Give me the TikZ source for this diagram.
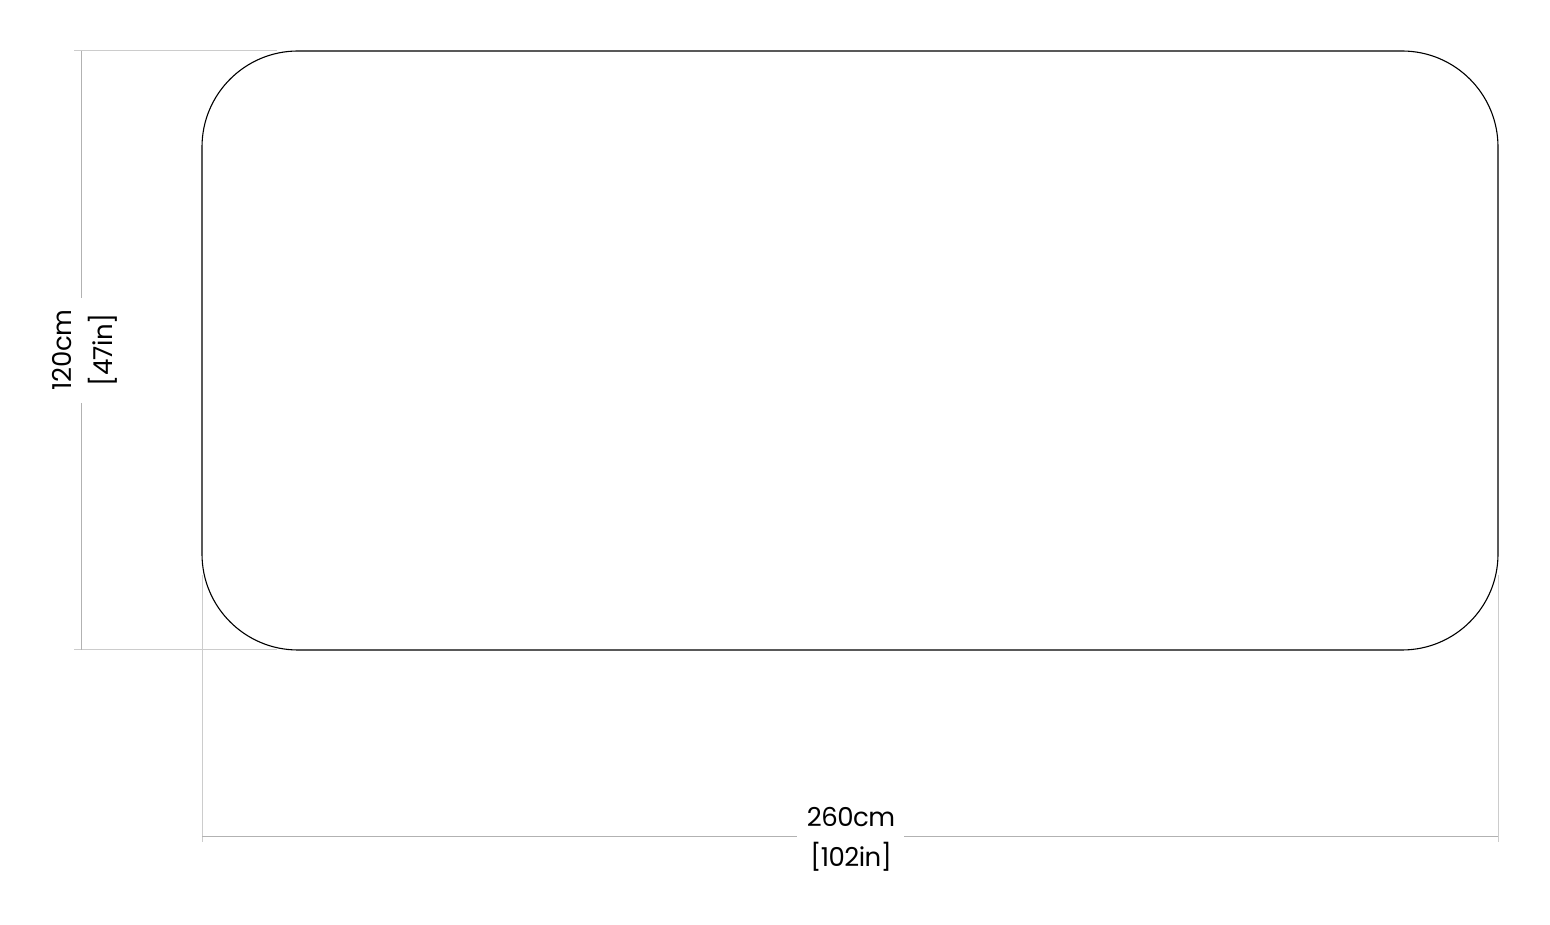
\documentclass[tikz,border=0pt]{standalone}
\usepackage{fontspec}
\setmainfont{Poppins}
\usetikzlibrary{positioning}
\tikzset{
  outline/.style={draw=black,line width=1.1pt},
  dimline/.style={draw=black!30,line width=1pt},
  extline/.style={draw=black!20,line width=1pt},
  dimtext/.style={font=\fontsize{26}{30}\selectfont\addfontfeatures{LetterSpace=-2}\selectfont,inner sep=0pt,text=black}
}
\begin{document}
\begin{tikzpicture}[x=1pt,y=1pt]
        \useasboundingbox (0,0) rectangle (1550,924);
        % table top
        \coordinate (sw) at (202,274);
        \coordinate (ne) at (1498,873);
        \draw[outline,rounded corners=96pt] (sw) rectangle (ne);
        % depth
        \node[dimtext,rotate=90] (depthcm) at (62,574) {120cm};
        \node[dimtext,rotate=90] (depthin) at (103,574) {[47in]};
        \draw[extline] (74,873) -- (277,873);
        \draw[extline] (74,274) -- (277,274);
        \draw[dimline] (81,873) -- (81,626);
        \draw[dimline] (81,521) -- (81,274);
        % width
        \node[dimtext] (widthcm) at (851,107) {260cm};
        \node[dimtext] (widthin) at (851,67) {[102in]};
        \draw[extline] (202,349) -- (202,82);
        \draw[extline] (1498,349) -- (1498,82);
        \draw[dimline] (202,88) -- (797,88);
        \draw[dimline] (904,88) -- (1498,88);
\end{tikzpicture}
\end{document}
